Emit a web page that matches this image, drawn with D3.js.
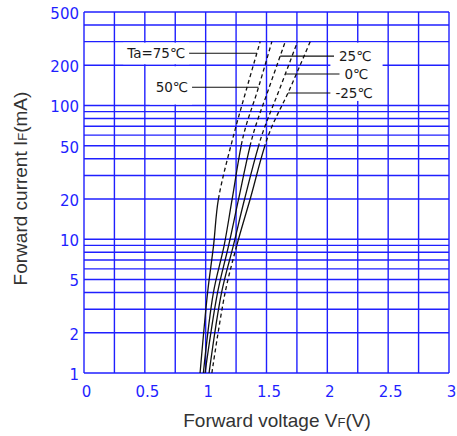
<!DOCTYPE html>
<html><head><meta charset="utf-8">
<script src="https://cdn.jsdelivr.net/npm/d3@7"></script>
<style>body{margin:0;background:#fff} svg{display:block}</style>
</head><body><svg id="c" width="457" height="436"></svg>
<script>
// ---- data ----
const currents = [1, 4, 9, 20, 60, 130, 300];           // IF (mA)
const seriesNames = ["Ta=75℃", "50℃", "25℃", "0℃", "-25℃"];
const vf75  = [0.954, 1.016, 1.065, 1.105, 1.230, 1.333, 1.448];
const vf50  = [0.981, 1.064, 1.152, 1.218, 1.311, 1.427, 1.544];
const vf25  = [0.995, 1.098, 1.189, 1.271, 1.388, 1.514, 1.654];
const vf0   = [1.028, 1.131, 1.228, 1.320, 1.462, 1.604, 1.755];
const vfm25 = [1.051, 1.160, 1.256, 1.366, 1.516, 1.687, 1.859];
const solidMax = [20, 50, 50, 50, 50];   // dashed above this current
const solidMin = [1, 1, 1, 1, 9];        // dashed below this current
const labelCurrent = [246, 137, 234, 172, 124];
const labelSide = ["left", "left", "right", "right", "right"];
const labelEndV = [0.864, 0.888, 2.055, 2.10, 2.025];
const xTicks = [0, 0.5, 1, 1.5, 2, 2.5, 3];
const xTickLabels = ["0", "0.5", "1", "1.5", "2", "2.5", "3"];
const xGrid = [0, 0.25, 0.5, 0.75, 1, 1.25, 1.5, 1.75, 2, 2.25, 2.5, 2.75, 3];
const yTicks = [1, 2, 5, 10, 20, 50, 100, 200, 500];
const yTickLabels = ["1", "2", "5", "10", "20", "50", "100", "200", "500"];
const yGrid = [1,2,3,4,5,6,7,8,9,10,20,30,40,50,60,70,80,90,100,200,300,400,500];

const seriesV = [vf75, vf50, vf25, vf0, vfm25];

// ---- layout ----
const L = 84, R = 449, T = 12, B = 373;
const blue = "#1f1fff";
const svg = d3.select("#c");
const x = d3.scaleLinear().domain([0, 3]).range([L, R]);
const y = d3.scaleLog().domain([1, 500]).range([B, T]);

// grid
const g = svg.append("g");
g.selectAll("line.v").data(xGrid).enter().append("line")
  .attr("x1", d => x(d)).attr("x2", d => x(d)).attr("y1", T).attr("y2", B)
  .attr("stroke", blue).attr("stroke-width", 1.4);
g.selectAll("line.h").data(yGrid).enter().append("line")
  .attr("x1", L).attr("x2", R).attr("y1", d => y(d)).attr("y2", d => y(d))
  .attr("stroke", blue).attr("stroke-width", 1.4);

// axes labels
const xAxis = d3.axisBottom(x).tickValues(xTicks).tickSize(0).tickPadding(13.5)
  .tickFormat((d, i) => xTickLabels[i]);
const gx = svg.append("g").attr("transform", `translate(2,${B})`).call(xAxis);
const yAxis = d3.axisLeft(y).tickValues(yTicks).tickSize(0).tickPadding(5)
  .tickFormat((d, i) => yTickLabels[i]);
const gy = svg.append("g").attr("transform", `translate(${L},1.5)`).call(yAxis);
[gx, gy].forEach(a => {
  a.select(".domain").remove();
  a.selectAll("text").attr("fill", blue).style("font-family", "DejaVu Sans")
    .style("font-size", "15px");
});

// label boxes and labels
const fontLab = "DejaVu Sans";
const labG = svg.append("g");
const boxG = labG.append("g");
const textEls = [];
seriesNames.forEach((name, i) => {
  const interp = d3.scaleLog().domain(currents).range(seriesV[i]);
  const yy = y(labelCurrent[i]);
  const xc = x(interp(labelCurrent[i]));
  const xe = x(labelEndV[i]);
  labG.append("line").attr("x1", xe).attr("x2", xc).attr("y1", yy).attr("y2", yy)
    .attr("stroke", "#111").attr("stroke-width", 1.1);
  const t = labG.append("text")
    .attr("x", labelSide[i] === "left" ? xe - 4 : xe + 5)
    .attr("y", yy).attr("dy", "0.36em")
    .attr("text-anchor", labelSide[i] === "left" ? "end" : "start")
    .style("font-family", fontLab).style("font-size", "13.5px").attr("fill", "#1a1a1a")
    .text(name);
  textEls.push(t);
});
// white boxes hiding grid behind labels
{
  const b0 = textEls[0].node().getBBox();
  boxG.append("rect").attr("x", b0.x - 3).attr("width", x(labelEndV[0]) - b0.x + 3)
    .attr("y", y(300) + 1).attr("height", y(200) - y(300) - 2).attr("fill", "#fff");
  const b1 = textEls[1].node().getBBox();
  boxG.append("rect").attr("x", b1.x - 6).attr("width", x(labelEndV[1]) - b1.x + 6)
    .attr("y", y(200) + 1).attr("height", y(100) - y(200) - 2).attr("fill", "#fff");
  const bs = [2, 3, 4].map(i => textEls[i].node().getBBox());
  const x0 = d3.min([2, 3, 4], i => x(labelEndV[i]));
  const x1 = d3.max(bs, b => b.x + b.width) + 10;
  boxG.append("rect").attr("x", x0).attr("width", x1 - x0)
    .attr("y", y(300) + 1).attr("height", y(110) - y(300)).attr("fill", "#fff");
}

// curves
const line = d3.line().x(d => x(d.v)).y(d => y(d.i)).curve(d3.curveCatmullRom.alpha(0.5));
const defs = svg.append("defs");
seriesNames.forEach((name, i) => {
  const pts = currents.map((c, k) => ({ i: c, v: seriesV[i][k] }));
  const ys = y(solidMax[i]), yb = y(solidMin[i]);
  const cs = defs.append("clipPath").attr("id", "s" + i);
  cs.append("rect").attr("x", 0).attr("width", 457).attr("y", ys).attr("height", (solidMin[i] === 1 ? B + 3 : yb) - ys);
  const cd = defs.append("clipPath").attr("id", "d" + i);
  cd.append("rect").attr("x", 0).attr("width", 457).attr("y", 0).attr("height", ys);
  if (solidMin[i] > 1) cd.append("rect").attr("x", 0).attr("width", 457).attr("y", yb).attr("height", 436 - yb);
  svg.append("path").datum(pts).attr("d", line).attr("fill", "none").attr("stroke", "#111")
    .attr("stroke-width", 1.3).attr("clip-path", `url(#s${i})`);
  svg.append("path").datum(pts).attr("d", line).attr("fill", "none").attr("stroke", "#111")
    .attr("stroke-width", 1.3).attr("stroke-dasharray", "4,3").attr("clip-path", `url(#d${i})`);
});

// axis titles
const tf = "Liberation Sans";
const xt = svg.append("text").attr("x", 277).attr("y", 427).attr("text-anchor", "middle")
  .style("font-family", tf).style("font-size", "19px").attr("fill", "#333");
xt.append("tspan").text("Forward voltage V");
xt.append("tspan").style("font-size", "13px").text("F");
xt.append("tspan").text("(V)");
const yt = svg.append("text").attr("transform", "translate(26.5,188.5) rotate(-90)")
  .attr("text-anchor", "middle").style("font-family", tf).style("font-size", "19px").attr("fill", "#333");
yt.append("tspan").text("Forward current I");
yt.append("tspan").style("font-size", "13px").text("F");
yt.append("tspan").text("(mA)");
</script></body></html>
